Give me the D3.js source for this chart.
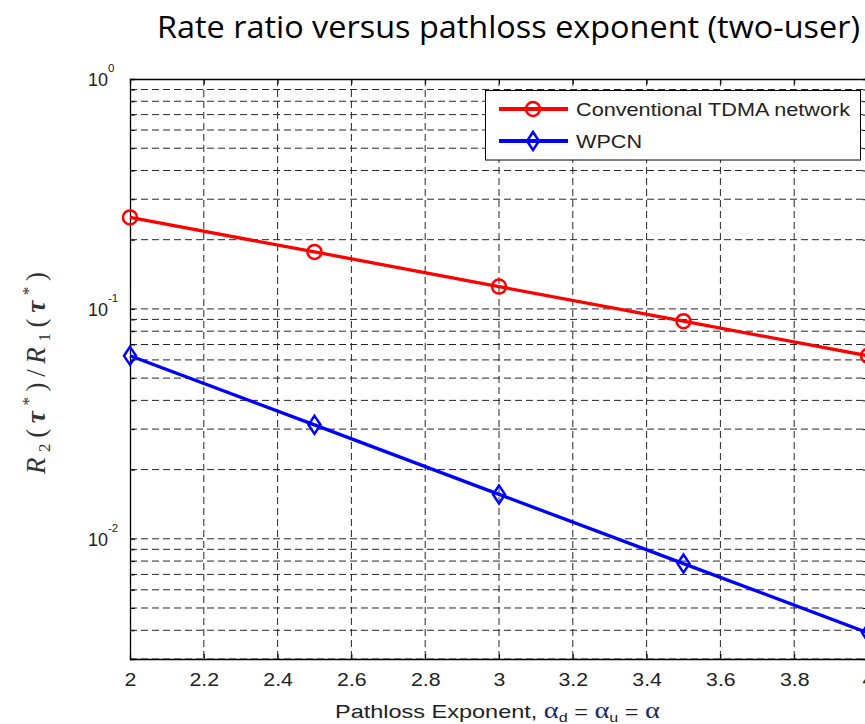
<!DOCTYPE html>
<html><head><meta charset="utf-8">
<script src="https://cdn.jsdelivr.net/npm/d3@7"></script>
<style>
  body { margin: 0; background: #fff; }
  svg { display: block; }
</style>
</head><body>
<svg id="chart" width="865" height="724"></svg>
<script>
// Rate ratio R2/R1 at the optimal time allocation, for each pathloss exponent
const exponents = [2, 2.5, 3, 3.5, 4];
const tdmaRatio = [0.25, 0.177, 0.125, 0.0884, 0.0625];
const wpcnRatio = [0.0625, 0.0313, 0.0156, 0.0078, 0.0039];
const seriesNames = ["Conventional TDMA network", "WPCN"];
const xTicks = [2, 2.2, 2.4, 2.6, 2.8, 3, 3.2, 3.4, 3.6, 3.8, 4];
const yDecades = [1, 0.1, 0.01];
const yDecadeExp = ["0", "-1", "-2"];

const svg = d3.select("#chart");
const box = { left: 130, top: 79, right: 868, bottom: 659 };
const x = d3.scaleLinear().domain([2, 4]).range([box.left, box.right]);
const y = d3.scaleLog().domain([0.003, 1]).range([box.bottom, box.top]);

// log grid: 1..9 within each decade of the y domain
const yGrid = [];
[0.001, 0.01, 0.1].forEach(d => {
  for (let k = 1; k <= 9; k++) {
    const v = +(k * d).toPrecision(6);
    if (v >= 0.003 && v <= 1) yGrid.push(v);
  }
});
yGrid.push(1);

const gridColor = "#262626";
const dash = "7,4";

// dashed grid
const grid = svg.append("g");
grid.selectAll("line.h").data(yGrid.filter(v => v < 1)).join("line")
  .attr("x1", box.left).attr("x2", box.right)
  .attr("y1", d => y(d)).attr("y2", d => y(d))
  .attr("stroke", gridColor).attr("stroke-width", 1).attr("stroke-dasharray", dash);
grid.selectAll("line.v").data(xTicks.slice(1, -1)).join("line")
  .attr("x1", d => x(d)).attr("x2", d => x(d))
  .attr("y1", box.top).attr("y2", box.bottom)
  .attr("stroke", gridColor).attr("stroke-width", 1).attr("stroke-dasharray", dash);

// axes with inward ticks
const sansFont = "'Liberation Sans', Arial, sans-serif";
const xAxis = svg.append("g").attr("transform", `translate(0,${box.bottom})`)
  .call(d3.axisBottom(x).tickValues(xTicks).tickSize(-5).tickPadding(14)
    .tickFormat(d3.format("~g")));
xAxis.select(".domain").attr("stroke", "#000").attr("stroke-width", 1.3);
xAxis.selectAll("text").attr("font-family", sansFont).attr("font-size", 18.5)
  .attr("fill", "#222").each(function () {
    const w = this.getComputedTextLength();
    d3.select(this).attr("textLength", w * 1.15).attr("lengthAdjust", "spacingAndGlyphs");
  });

const xTop = svg.append("g").attr("transform", `translate(0,${box.top})`)
  .call(d3.axisTop(x).tickValues(xTicks).tickSize(-5).tickFormat(""));
xTop.select(".domain").attr("stroke", "#000").attr("stroke-width", 1.3);

const yAxis = svg.append("g").attr("transform", `translate(${box.left},0)`)
  .call(d3.axisLeft(y).tickValues(yGrid).tickSize(-5).tickFormat(""));
yAxis.select(".domain").attr("stroke", "#000").attr("stroke-width", 1.3);

const yRight = svg.append("g").attr("transform", `translate(${box.right},0)`)
  .call(d3.axisRight(y).tickValues(yGrid).tickSize(-5).tickFormat(""));
yRight.select(".domain").attr("stroke", "#000").attr("stroke-width", 1.3);

// decade labels 10^n
yDecades.forEach((v, i) => {
  const t = svg.append("text").attr("x", 88).attr("y", y(v) + 7)
    .attr("font-family", sansFont).attr("font-size", 18).attr("fill", "#222");
  t.append("tspan").text("10");
  t.append("tspan").attr("dy", -14).attr("font-size", 11.5).text(yDecadeExp[i]);
});

// series
const series = [
  { name: seriesNames[0], values: tdmaRatio, color: "#ff0000", marker: "circle" },
  { name: seriesNames[1], values: wpcnRatio, color: "#0000ff", marker: "diamond" }
];
const line = d3.line().x(d => x(d[0])).y(d => y(d[1]));
const diamondPath = "M0,-9L6,0L0,9L-6,0Z";

function drawMarker(g, kind, cx, cy, color) {
  if (kind === "circle") {
    g.append("circle").attr("cx", cx).attr("cy", cy).attr("r", 7)
      .attr("fill", "none").attr("stroke", color).attr("stroke-width", 2.5);
  } else {
    g.append("path").attr("d", diamondPath).attr("transform", `translate(${cx},${cy})`)
      .attr("fill", "none").attr("stroke", color).attr("stroke-width", 2.5);
  }
}

series.forEach(s => {
  const pts = exponents.map((e, i) => [e, s.values[i]]);
  const g = svg.append("g");
  g.append("path").datum(pts).attr("d", line).attr("fill", "none")
    .attr("stroke", s.color).attr("stroke-width", 3.3);
  pts.forEach(p => drawMarker(g, s.marker, x(p[0]), y(p[1]), s.color));
});

// legend
const lg = svg.append("g");
lg.append("rect").attr("x", 485.5).attr("y", 90.5).attr("width", 375).attr("height", 69.5)
  .attr("fill", "#fff").attr("stroke", "#000").attr("stroke-width", 1);
const legendRows = [
  { y: 109, len: 274 },
  { y: 141, len: 66 }
];
series.forEach((s, i) => {
  const ry = legendRows[i].y;
  lg.append("line").attr("x1", 499).attr("x2", 568).attr("y1", ry).attr("y2", ry)
    .attr("stroke", s.color).attr("stroke-width", 4);
  drawMarker(lg, s.marker, 533, ry, s.color);
  lg.append("text").attr("x", 576).attr("y", ry + 7)
    .attr("font-family", sansFont).attr("font-size", 19).attr("fill", "#222")
    .attr("textLength", legendRows[i].len).attr("lengthAdjust", "spacingAndGlyphs")
    .text(s.name);
});

// x-axis title
const xl = svg.append("text").attr("x", 335).attr("y", 718)
  .attr("font-family", sansFont).attr("font-size", 19).attr("fill", "#222")
  .attr("textLength", 325).attr("lengthAdjust", "spacingAndGlyphs");
xl.append("tspan").text("Pathloss Exponent, ");
const greek = "'Liberation Serif', 'DejaVu Serif', serif";
xl.append("tspan").attr("font-family", greek).attr("font-size", 23).attr("fill", "#1a2a6a").text("\u03b1");
xl.append("tspan").attr("font-size", 13).attr("dy", 4).text("d");
xl.append("tspan").attr("dy", -4).text(" = ");
xl.append("tspan").attr("font-family", greek).attr("font-size", 23).attr("fill", "#1a2a6a").text("\u03b1");
xl.append("tspan").attr("font-size", 13).attr("dy", 4).text("u");
xl.append("tspan").attr("dy", -4).text(" = ");
xl.append("tspan").attr("font-family", greek).attr("font-size", 23).attr("fill", "#1a2a6a").text("\u03b1");

// y-axis title: R2(τ*) / R1(τ*)
const mathFont = "'Liberation Serif', 'Times New Roman', serif";
const yl = svg.append("text")
  .attr("transform", "translate(45,474) rotate(-90)")
  .attr("font-family", mathFont).attr("font-size", 27).attr("fill", "#333")
  .attr("textLength", 202).attr("lengthAdjust", "spacing");
function ratioTerm(idx) {
  yl.append("tspan").attr("font-style", "italic").text("R");
  yl.append("tspan").attr("font-size", 17).attr("dy", 5).text(idx);
  yl.append("tspan").attr("dy", -5).text("(");
  yl.append("tspan").attr("font-weight", "bold").attr("font-style", "italic").text("\u03c4");
  yl.append("tspan").attr("font-size", 17).attr("dy", -11).text("*");
  yl.append("tspan").attr("dy", 11).text(")");
}
ratioTerm("2");
yl.append("tspan").text("/");
ratioTerm("1");

// chart title
svg.append("text").attr("x", 157).attr("y", 38)
  .attr("font-family", "'Open Sans', 'Noto Sans', sans-serif").attr("font-size", 31)
  .attr("fill", "#000").attr("textLength", 703).attr("lengthAdjust", "spacingAndGlyphs")
  .text("Rate ratio versus pathloss exponent (two-user)");
</script>
</body></html>
